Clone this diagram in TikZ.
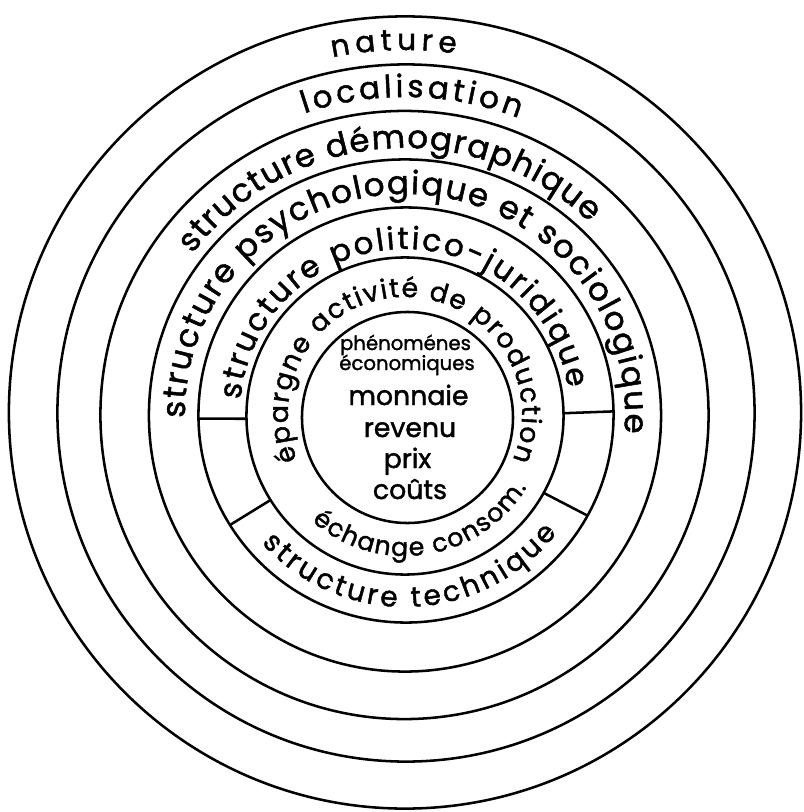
\documentclass[tikz,border=0pt]{standalone}
\usepackage{fontspec}
\setmainfont{Poppins}[FakeBold=1.5]
\usetikzlibrary{decorations.text}

\newcommand{\ringfont}[1]{\fontsize{#1}{#1}\selectfont}

\begin{document}
\begin{tikzpicture}[
  x=0.025cm, y=0.025cm,
  ring/.style={circle, draw, line width=1.8pt, inner sep=0pt, outer sep=0pt},
  wall/.style={line width=1.8pt},
  core/.style={anchor=base, inner sep=0pt, font=\ringfont{19}},
  corehead/.style={core, font=\ringfont{14}},
  arctext/.style={decorate, decoration={text along path, text align=fit to path, text={#1}}},
]
\useasboundingbox (-405,-398) rectangle (399,414);

% ---- the seven circles, outermost first ------------------------------------
\node[ring, minimum size=19.8cm]   (nature)   at (0,1.5)     {};
\node[ring, minimum size=17.425cm] (localis)  at (1,1)       {};
\node[ring, minimum size=15.2cm]   (demo)     at (-0.5,-1)   {};
\node[ring, minimum size=12.8cm]   (psycho)   at (0,-1.5)    {};
\node[ring, minimum size=10.375cm] (politico) at (1,-1)      {};
\node[ring, minimum size=7.925cm]  (activite) at (0,-2)      {};
\node[ring, minimum size=5.275cm]  (phenom)   at (2.5,-3.5)  {};

% ---- walls splitting the politico ring ----------------------------------------
\draw[wall] (politico.181)   -- (activite.181);
\draw[wall] (politico.1)     -- (activite.1);
\draw[wall] (politico.212)   -- (activite.212);
\draw[wall] (politico.-29.5) -- (activite.-29.5);

% ---- ring labels, clockwise over the top ------------------------------------------
\path[arctext={|\ringfont{21}|nature}]
  (101.5:364) arc[start angle=101.5, end angle=82, radius=364];
\path[arctext={|\ringfont{22}|localisation}]
  (108.5:317) arc[start angle=108.5, end angle=69, radius=317];
\path[arctext={|\ringfont{23}|structure démographique}]
  (143:266) arc[start angle=143, end angle=46, radius=266];
\path[arctext={|\ringfont{23}|structure psychologique et sociologique}]
  (181:220) arc[start angle=181, end angle=-5, radius=220];
\path[arctext={|\ringfont{22}|structure politico-juridique}]
  (175:165) arc[start angle=175, end angle=9, radius=165];
\path[arctext={|\ringfont{19}|épargne activité de production}]
  (203:117) arc[start angle=203, end angle=-23, radius=117];

% ---- ring labels, counter-clockwise along the bottom --------------------------------
\path[arctext={|\ringfont{20}|structure technique}]
  (-138:193) arc[start angle=-138, end angle=-38, radius=193];
\path[arctext={|\ringfont{18}|échange consom.}]
  (-131:142) arc[start angle=-131, end angle=-31, radius=142];

% ---- core ------------------------------------------------------------------------
\node[corehead] (phen) at (0.5,64) {phénoménes};
\node[corehead] (econ) at (2,44)   {économiques};
\node[core]     (monn) at (3.5,9)  {monnaie};
\node[core]     (rev)  at (5,-23)  {revenu};
\node[core]     (prix) at (2.5,-54) {prix};
\node[core]     (cout) at (5,-85)  {coûts};

\end{tikzpicture}
\end{document}
